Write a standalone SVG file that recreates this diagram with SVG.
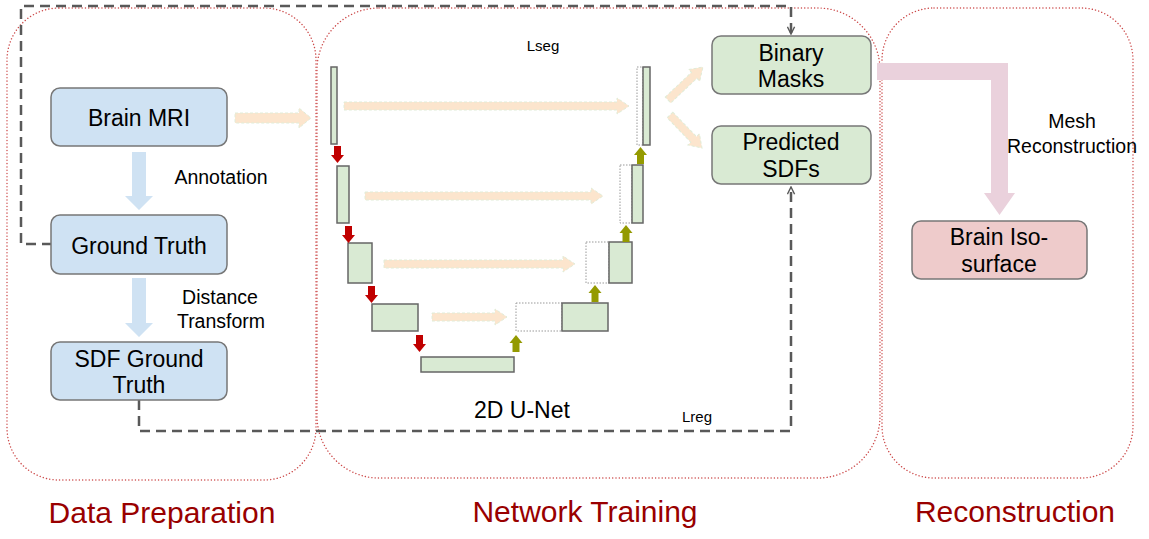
<svg xmlns="http://www.w3.org/2000/svg" width="1149" height="539" viewBox="0 0 1149 539">
<style>
.cont{fill:none;stroke:#cc4a4a;stroke-width:1.4;stroke-dasharray:0.1 3.2;stroke-linecap:round}
.blue{fill:#cfe2f3;stroke:#777;stroke-width:1.5}
.green{fill:#d9ead3;stroke:#777;stroke-width:1.5}
.pink{fill:#eecbcb;stroke:#777;stroke-width:1.5}
.blk{fill:#d9ead3;stroke:#666;stroke-width:1.5}
.dot{fill:#fff;stroke:#999;stroke-width:1;stroke-dasharray:1.5 1.5}
.t{font-family:"Liberation Sans",Arial,sans-serif;fill:#000;text-anchor:middle}
.n{font-size:23px}
.l{font-size:19.5px}
.sec{font-family:"Liberation Sans",Arial,sans-serif;font-size:30px;fill:#990000;text-anchor:middle}
.skip{fill:#fce5cd;stroke:#e0ecd8;stroke-width:1;stroke-dasharray:3 2}
.dash{fill:none;stroke:#595959;stroke-width:2.5;stroke-dasharray:10 6}
.down{fill:#c00000}
.up{fill:#949a00}
</style>
<defs>
<marker id="chev" viewBox="0 0 10 10" refX="9" refY="5" markerWidth="9" markerHeight="9" markerUnits="userSpaceOnUse" orient="auto">
<path d="M1,1 L9,5 L1,9" fill="none" stroke="#595959" stroke-width="1.6"/>
</marker>
<path id="dn" d="M-3.5,0 h7 v9 h3 l-6.5,8 l-6.5,-8 h3 z"/>
<path id="upa" d="M0,0 l6.5,8 h-3 v9 h-7 v-9 h-3 z"/>
</defs>

<g id="containers">
<rect class="cont" x="7" y="8" width="309" height="472" rx="52"/>
<rect class="cont" x="317" y="8" width="563" height="470" rx="62"/>
<rect class="cont" x="882" y="8" width="251" height="470" rx="52"/>
</g>

<g id="connectors">
<path class="dash" d="M52,244 H21 V6 H791 V34" marker-end="url(#chev)"/>
<path class="dash" d="M139,400 V431 H791 V187" marker-end="url(#chev)"/>
<path fill="#cfe2f3" d="M132,152 H146 V196 H153 L139,210 L125,196 H132 Z"/>
<path fill="#cfe2f3" d="M132,278 H146 V323 H153 L139,337 L125,323 H132 Z"/>
<path fill="#ead1dc" d="M877,63 H1008 V193 H1015 L999.5,215 L984,193 H991 V80 H877 Z"/>
<polygon class="skip" points="235,113 299,113 299,108 311,118 299,128 299,123 235,123"/>
<polygon class="skip" points="344,102 617,102 617,98 629,106 617,114 617,110 344,110"/>
<polygon class="skip" points="365,192 591,192 591,188 603,196 591,204 591,200 365,200"/>
<polygon class="skip" points="384,260 563,260 563,256 575,264 563,272 563,268 384,268"/>
<polygon class="skip" points="432,313 495,313 495,309 507,317 495,325 495,321 432,321"/>
<polygon class="skip" transform="translate(668,100) rotate(-43.3)" points="0,-4 36,-4 36,-8 48,0 36,8 36,4 0,4"/>
<polygon class="skip" transform="translate(670,115) rotate(45.9)" points="0,-4 34,-4 34,-8 46,0 34,8 34,4 0,4"/>
</g>

<g id="unet">
<rect class="blk" x="331" y="67" width="6" height="77"/>
<rect class="blk" x="337" y="166" width="12" height="57"/>
<rect class="blk" x="348" y="243" width="24" height="40"/>
<rect class="blk" x="372" y="304" width="46" height="27"/>
<rect class="blk" x="421" y="357" width="93" height="15"/>
<rect class="dot" x="516" y="303" width="46" height="28"/>
<rect class="blk" x="562" y="303" width="46" height="28"/>
<rect class="dot" x="586" y="242" width="23" height="41"/>
<rect class="blk" x="609" y="242" width="23" height="41"/>
<rect class="dot" x="620" y="165" width="12" height="58"/>
<rect class="blk" x="632" y="165" width="11" height="58"/>
<rect class="dot" x="637" y="67" width="6" height="78"/>
<rect class="blk" x="643" y="67" width="7" height="78"/>
<use href="#dn" class="down" x="337.5" y="146"/>
<use href="#dn" class="down" x="348.5" y="226"/>
<use href="#dn" class="down" x="371.5" y="286"/>
<use href="#dn" class="down" x="419.5" y="335"/>
<use href="#upa" class="up" x="516" y="335"/>
<use href="#upa" class="up" x="595" y="285"/>
<use href="#upa" class="up" x="626" y="225"/>
<use href="#upa" class="up" x="640.5" y="147"/>
<text class="t" x="522" y="418" font-size="23">2D U-Net</text>
<text class="t" x="543" y="51" font-size="15">Lseg</text>
<text class="t" x="697" y="422" font-size="15">Lreg</text>
</g>

<g id="brain-mri">
<rect class="blue" x="51" y="88" width="176" height="58" rx="9"/>
<text class="t n" x="139" y="126">Brain MRI</text>
</g>
<g id="ground-truth">
<rect class="blue" x="51" y="215" width="176" height="59" rx="9"/>
<text class="t n" x="139" y="254">Ground Truth</text>
</g>
<g id="sdf-ground-truth">
<rect class="blue" x="51" y="342" width="176" height="58" rx="9"/>
<text class="t n" x="139" y="367">SDF Ground</text>
<text class="t n" x="139" y="393">Truth</text>
</g>
<g id="binary-masks">
<rect class="green" x="712" y="36" width="159" height="58" rx="9"/>
<text class="t n" x="791" y="61">Binary</text>
<text class="t n" x="791" y="87">Masks</text>
</g>
<g id="predicted-sdfs">
<rect class="green" x="712" y="126" width="159" height="58" rx="9"/>
<text class="t n" x="791" y="150">Predicted</text>
<text class="t n" x="791" y="177">SDFs</text>
</g>
<g id="brain-iso-surface">
<rect class="pink" x="912" y="221" width="175" height="58" rx="9"/>
<text class="t n" x="999" y="245">Brain Iso-</text>
<text class="t n" x="999" y="272">surface</text>
</g>

<g id="labels">
<text class="t l" x="221" y="184">Annotation</text>
<text class="t l" x="220" y="304">Distance</text>
<text class="t l" x="221" y="328">Transform</text>
<text class="t l" x="1072" y="128">Mesh</text>
<text class="t l" x="1072" y="153">Reconstruction</text>
<text class="sec" x="162" y="523">Data Preparation</text>
<text class="sec" x="585" y="522">Network Training</text>
<text class="sec" x="1015" y="522">Reconstruction</text>
</g>
</svg>
